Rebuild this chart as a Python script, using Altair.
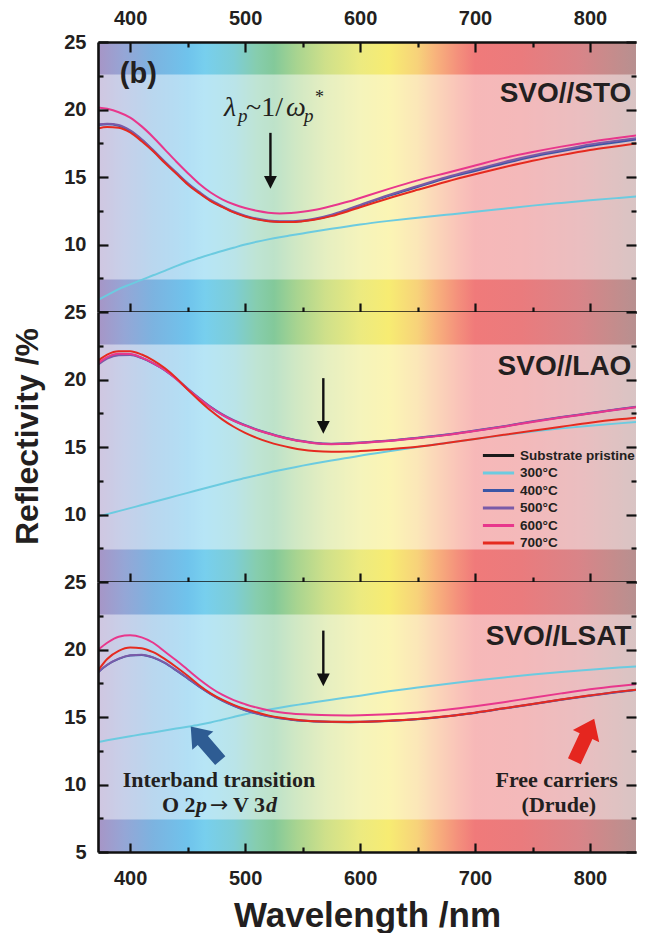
import altair as alt
import pandas as pd

# ---------------- data ----------------
X0, X1 = 372, 840
Y0, Y1 = 5, 25
W, H = 538, 270

SERIES = ["Substrate pristine", "300°C", "400°C", "500°C", "600°C", "700°C"]
COLORS = ["#1a1a1a", "#6ccbe0", "#3b56a6", "#7a5ba8", "#e8378c", "#e52a1f"]

WL = [372, 380, 390, 400, 410, 420, 430, 440, 450, 460, 470, 480, 490, 500, 510, 520, 530,
      540, 550, 560, 575, 590, 600, 625, 650, 675, 700, 725, 750, 775, 800, 825, 846]

STO_300 = [5.9, 6.25, 6.7, 7.05, 7.38, 7.72, 8.05, 8.4, 8.72, 9.0, 9.27, 9.52, 9.76, 10.0, 10.2, 10.38, 10.54,
           10.68, 10.82, 10.96, 11.16, 11.35, 11.48, 11.75, 11.98, 12.2, 12.42, 12.65, 12.88, 13.08, 13.27, 13.45, 13.6]
STO_400 = [18.85, 18.9, 18.8, 18.4, 17.75, 16.95, 16.1, 15.3, 14.5, 13.85, 13.25, 12.8, 12.4, 12.1, 11.88, 11.74, 11.68,
           11.68, 11.74, 11.86, 12.15, 12.58, 12.88, 13.6, 14.25, 14.9, 15.45, 16.0, 16.5, 16.9, 17.3, 17.6, 17.85]
STO_500 = [18.9, 18.95, 18.85, 18.45, 17.8, 17.0, 16.15, 15.35, 14.55, 13.9, 13.3, 12.85, 12.45, 12.14, 11.92, 11.78, 11.72,
           11.72, 11.78, 11.9, 12.2, 12.63, 12.93, 13.67, 14.33, 14.98, 15.55, 16.1, 16.6, 17.0, 17.4, 17.7, 17.95]
STO_600 = [20.15, 20.05, 19.8, 19.4, 18.75, 17.95, 17.05, 16.15, 15.3, 14.5, 13.85, 13.35, 12.98, 12.7, 12.5, 12.36, 12.3,
           12.33, 12.42, 12.56, 12.85, 13.18, 13.45, 14.12, 14.75, 15.3, 15.85, 16.4, 16.85, 17.25, 17.6, 17.9, 18.15]
STO_700 = [18.6, 18.7, 18.65, 18.3, 17.65, 16.9, 16.05, 15.25, 14.45, 13.8, 13.22, 12.78, 12.38, 12.08, 11.86, 11.72, 11.66,
           11.66, 11.72, 11.83, 12.1, 12.48, 12.76, 13.43, 14.05, 14.65, 15.2, 15.72, 16.2, 16.62, 17.0, 17.3, 17.55]

LAO_300 = [9.85, 10.03, 10.25, 10.47, 10.7, 10.92, 11.15, 11.38, 11.6, 11.83, 12.05, 12.28, 12.5, 12.7, 12.9, 13.1, 13.28,
           13.45, 13.62, 13.78, 14.0, 14.2, 14.35, 14.68, 15.0, 15.3, 15.6, 15.88, 16.14, 16.38, 16.58, 16.75, 16.88]
LAO_400 = [21.15, 21.6, 21.85, 21.85, 21.6, 21.2, 20.7, 20.05, 19.3, 18.6, 17.95, 17.4, 16.95, 16.6, 16.28, 16.02, 15.78,
           15.58, 15.42, 15.3, 15.23, 15.26, 15.32, 15.46, 15.66, 15.9, 16.2, 16.52, 16.88, 17.2, 17.5, 17.8, 18.03]
LAO_500 = [21.1, 21.55, 21.8, 21.82, 21.58, 21.2, 20.72, 20.08, 19.33, 18.63, 17.98, 17.43, 16.98, 16.63, 16.3, 16.04, 15.8,
           15.6, 15.44, 15.32, 15.25, 15.28, 15.34, 15.48, 15.68, 15.92, 16.22, 16.54, 16.9, 17.22, 17.52, 17.82, 18.05]
LAO_600 = [21.2, 21.65, 21.9, 21.88, 21.62, 21.22, 20.7, 20.04, 19.28, 18.58, 17.93, 17.38, 16.93, 16.58, 16.26, 16.0, 15.76,
           15.56, 15.4, 15.28, 15.21, 15.24, 15.3, 15.44, 15.64, 15.88, 16.18, 16.5, 16.86, 17.18, 17.48, 17.78, 18.0]
LAO_700 = [21.4, 21.85, 22.1, 22.1, 21.85, 21.42, 20.85, 20.12, 19.25, 18.45, 17.7, 17.05, 16.5, 16.05, 15.68, 15.38, 15.14,
           14.95, 14.8, 14.7, 14.64, 14.66, 14.7, 14.84, 15.02, 15.3, 15.6, 15.9, 16.2, 16.5, 16.8, 17.05, 17.22]

LSAT_300 = [13.15, 13.27, 13.42, 13.57, 13.72, 13.86, 14.0, 14.14, 14.28, 14.43, 14.6, 14.8, 15.0, 15.2, 15.38, 15.54, 15.69,
            15.83, 15.96, 16.09, 16.28, 16.46, 16.58, 16.9, 17.18, 17.45, 17.7, 17.93, 18.14, 18.33, 18.5, 18.66, 18.78]
LSAT_400 = [18.3, 18.85, 19.3, 19.55, 19.6, 19.4, 19.0, 18.45, 17.85, 17.25, 16.7, 16.22, 15.83, 15.5, 15.25, 15.05, 14.9,
            14.8, 14.72, 14.67, 14.63, 14.62, 14.63, 14.7, 14.84, 15.04, 15.3, 15.62, 15.94, 16.27, 16.58, 16.85, 17.06]
LSAT_500 = [18.32, 18.87, 19.32, 19.57, 19.62, 19.42, 19.02, 18.47, 17.87, 17.27, 16.72, 16.24, 15.85, 15.52, 15.27, 15.07, 14.92,
            14.82, 14.74, 14.69, 14.65, 14.64, 14.65, 14.72, 14.86, 15.06, 15.32, 15.64, 15.96, 16.29, 16.6, 16.87, 17.08]
LSAT_600 = [19.97, 20.5, 20.95, 21.05, 20.9, 20.5, 19.85, 19.2, 18.5, 17.8, 17.17, 16.65, 16.25, 15.95, 15.7, 15.5, 15.36,
            15.26, 15.2, 15.16, 15.13, 15.12, 15.13, 15.2, 15.34, 15.54, 15.8, 16.1, 16.43, 16.75, 17.05, 17.3, 17.48]
LSAT_700 = [18.44, 19.3, 19.9, 20.15, 20.1, 19.8, 19.3, 18.7, 18.05, 17.35, 16.75, 16.28, 15.9, 15.6, 15.35, 15.12, 14.96,
            14.83, 14.74, 14.68, 14.64, 14.63, 14.64, 14.72, 14.85, 15.05, 15.32, 15.64, 15.96, 16.3, 16.6, 16.88, 17.08]

PANEL_NAMES = ["SVO//STO", "SVO//LAO", "SVO//LSAT"]
PANEL_DATA = [
    {"300°C": STO_300, "400°C": STO_400, "500°C": STO_500, "600°C": STO_600, "700°C": STO_700},
    {"300°C": LAO_300, "400°C": LAO_400, "500°C": LAO_500, "600°C": LAO_600, "700°C": LAO_700},
    {"300°C": LSAT_300, "400°C": LSAT_400, "500°C": LSAT_500, "600°C": LSAT_600, "700°C": LSAT_700},
]

# label positions (wavelength, reflectivity)
PANEL_LABEL_X = 836
PANEL_LABEL_Y = [21.15, 20.93, 20.93]
# thin arrows: x, top, head centre
ARROW_X = [522, 568, 568]
ARROW_TOP = [18.27, 20.1, 21.4]
ARROW_HEAD = [14.6, 16.45, 17.75]

# spectrum background
SPEC_WL = [372, 395, 420, 450, 465, 490, 510, 525, 545, 570, 600, 625, 650, 665, 685, 700, 740, 790, 820, 840]
SPEC_COL = ["#a795c6", "#95a6d6", "#7cb3e0", "#6fc3ec", "#77cfee", "#7dcdd6", "#86cdae", "#83c99a", "#a8d490",
            "#cfe08a", "#ecea80", "#f7ec72", "#f7d27a", "#f8b47c", "#f4907c", "#f07a7a", "#ea7b7d", "#d98488",
            "#c58c8c", "#b79090"]
BAND_LO, BAND_HI = 7.4, 22.6

X_MAJOR = [400, 500, 600, 700, 800]
X_MINOR = [450, 550, 650, 750]
Y_MAJOR = [5, 10, 15, 20, 25]
Y_MINOR = [7.5, 12.5, 17.5, 22.5]

FONT = "Liberation Sans"
SERIF = "Liberation Serif"
INK = "#231f20"

xs = alt.Scale(domain=[X0, X1], nice=False, zero=False)
ys = alt.Scale(domain=[Y0, Y1], nice=False, zero=False)


def X(field="x"):
    return alt.X(f"{field}:Q", scale=xs, axis=None)


def Y(field="y"):
    return alt.Y(f"{field}:Q", scale=ys, axis=None)


def tick_axis(orient, values, size):
    return alt.Axis(orient=orient, values=values, domain=False, labels=False, ticks=True,
                    tickSize=size, tickWidth=2.2, tickColor="#111111", offset=-size,
                    grid=False, title=None, zindex=2)


def main_axis(orient, values, labels, pad, **kw):
    return alt.Axis(orient=orient, values=values, domain=True, domainColor="#111111",
                    domainWidth=2.6, ticks=False, labels=labels, labelPadding=pad, grid=False,
                    labelFont=FONT, labelFontSize=20, labelFontWeight="bold", labelColor=INK,
                    zindex=3, **kw)


anchor = pd.DataFrame({"x": [600], "y": [15]})


def carrier(xaxis, yaxis):
    return alt.Chart(anchor).mark_point(opacity=0, size=1).encode(
        x=alt.X("x:Q", scale=xs, axis=xaxis),
        y=alt.Y("y:Q", scale=ys, axis=yaxis),
    )


gradient = alt.Gradient(
    gradient="linear",
    stops=[alt.GradientStop(color=c, offset=(w - X0) / (X1 - X0)) for w, c in zip(SPEC_WL, SPEC_COL)],
    x1=0, x2=1, y1=0, y2=0,
)


def text_layer(x, y, t, **kw):
    return alt.Chart(pd.DataFrame({"x": [x], "y": [y], "t": [t]})).mark_text(**kw).encode(
        x=X(), y=Y(), text="t:N")


def panel(i):
    bg = alt.Chart(pd.DataFrame({"x": [X0], "x2": [X1], "y": [Y0], "y2": [Y1]})).mark_rect(
        color=gradient).encode(x=X(), x2="x2", y=Y(), y2="y2")
    wash = alt.Chart(pd.DataFrame({"x": [X0], "x2": [X1], "y": [BAND_LO], "y2": [BAND_HI]})).mark_rect(
        color="white", opacity=0.47).encode(x=X(), x2="x2", y=Y(), y2="y2")

    rows = []
    for name in SERIES:
        if name in PANEL_DATA[i]:
            for w, v in zip(WL, PANEL_DATA[i][name]):
                rows.append({"wl": w, "R": v, "series": name})
    df = pd.DataFrame(rows)
    if i == 1:
        legend = alt.Legend(orient="none", legendX=393, legendY=136, title=None,
                            symbolType="M-2.6,0H2.6", symbolSize=144, symbolStrokeWidth=3,
                            labelFont=FONT, labelFontSize=13.5, labelFontWeight="bold", labelColor=INK,
                            padding=0, rowPadding=3.5, labelOffset=14)
    else:
        legend = None
    lines = alt.Chart(df).mark_line(strokeWidth=2, interpolate="monotone", clip=True).encode(
        x=alt.X("wl:Q", scale=xs, axis=None),
        y=alt.Y("R:Q", scale=ys, axis=None),
        color=alt.Color("series:N", scale=alt.Scale(domain=SERIES, range=COLORS), legend=legend),
    )

    adf = pd.DataFrame({"x": [ARROW_X[i]], "y": [ARROW_TOP[i]], "y2": [ARROW_HEAD[i]]})
    shaft = alt.Chart(adf).mark_rule(strokeWidth=2.4, color="#111111").encode(x=X(), y=Y(), y2="y2")
    head = alt.Chart(adf).mark_point(shape="M-1,-1L1,-1L0,1Z", filled=True, size=165, opacity=1,
                                     color="#111111").encode(x=X(), y=Y("y2"))
    lab = text_layer(PANEL_LABEL_X, PANEL_LABEL_Y[i], PANEL_NAMES[i], align="right", baseline="middle",
                     font=FONT, fontSize=28, fontWeight="bold", color=INK)

    layers = [bg, wash, lines, shaft, head, lab]

    if i == 0:
        layers.append(text_layer(391, 22.63, "(b)", align="left", baseline="middle", font=FONT,
                                 fontSize=29, fontWeight="bold", color=INK))
        pieces = [("λ", 0, 0, 28, "italic"), ("p", 14, 6, 19, "italic"), ("~1/", 22, 0, 28, "normal"),
                  ("ω", 62, 0, 28, "italic"), ("p", 80, 6, 19, "italic"), ("*", 91, -13, 18, "normal")]
        for t, dx, dy, fs, st in pieces:
            layers.append(text_layer(481.6, 19.52, t, align="left", baseline="alphabetic", font=SERIF,
                                     fontSize=fs, fontStyle=st, dx=dx, dy=dy, color=INK))

    if i == 2:
        notes = pd.DataFrame({
            "x": [477.2, 771.0, 772.9],
            "y": [9.81, 9.81, 7.96],
            "t": ["Interband transition", "Free carriers", "(Drude)"],
        })
        layers.append(alt.Chart(notes).mark_text(
            align="center", baseline="alphabetic", font=SERIF, fontSize=22, fontWeight="bold", color=INK
        ).encode(x=X(), y=Y(), text="t:N"))
        # second line "O 2p → V 3d" with italic p and d
        parts = [("O 2", -57, "normal", SERIF, 22, "bold"), ("p", -23, "italic", SERIF, 22, "bold"),
                 ("→", -9, "normal", "DejaVu Sans", 22, "normal"), ("V 3", 14, "normal", SERIF, 22, "bold"),
                 ("d", 47, "italic", SERIF, 22, "bold")]
        for t, dx, st, fnt, fs, fw in parts:
            layers.append(text_layer(477.2, 7.96, t, align="left", baseline="alphabetic", font=fnt,
                                     fontSize=fs, fontWeight=fw, fontStyle=st, dx=dx, color=INK))
        big = pd.DataFrame({"x": [465.5], "y": [13.03]})
        arrow_path = "M0,-1L0.62,-0.18L0.3,-0.18L0.3,1L-0.3,1L-0.3,-0.18L-0.62,-0.18Z"
        layers.append(alt.Chart(big).mark_point(shape=arrow_path, filled=True, size=2025, angle=319,
                                                opacity=1, color="#2e5c93").encode(x=X(), y=Y()))
        red = pd.DataFrame({"x": [795.0], "y": [13.3]})
        layers.append(alt.Chart(red).mark_point(shape=arrow_path, filled=True, size=2200, angle=25,
                                                opacity=1, color="#e5261f").encode(x=X(), y=Y()))

    # axes
    yl_vals = [10, 15, 20, 25] if i < 2 else [5, 10, 15, 20, 25]
    if i == 1:
        ykw = dict(title="Reflectivity /%", titleFont=FONT, titleFontSize=32, titleFontWeight="bold",
                   titleColor=INK, titleAngle=270, titleX=-61, titleY=124, titleAlign="center",
                   titleBaseline="alphabetic")
    else:
        ykw = dict(title=None)
    if i == 2:
        xkw = dict(title="Wavelength /nm", titleFont=FONT, titleFontSize=35, titleFontWeight="bold",
                   titleColor=INK, titleY=74, titleBaseline="alphabetic")
    else:
        xkw = dict(title=None)
    layers.append(carrier(main_axis("bottom", X_MAJOR, i == 2, 16, **xkw),
                          main_axis("left", yl_vals, True, 12, **ykw)))
    layers.append(carrier(tick_axis("bottom", X_MAJOR, 9), tick_axis("left", Y_MAJOR, 10)))
    layers.append(carrier(tick_axis("bottom", X_MINOR, 5), tick_axis("left", Y_MINOR, 5)))
    if i == 0:
        layers.append(carrier(main_axis("top", X_MAJOR, True, 14, title=None), tick_axis("right", Y_MAJOR, 10)))
        layers.append(carrier(tick_axis("top", X_MAJOR, 10), tick_axis("right", Y_MINOR, 5)))
        layers.append(carrier(tick_axis("top", X_MINOR, 5), None))
    else:
        layers.append(carrier(None, tick_axis("right", Y_MAJOR, 10)))
        layers.append(carrier(None, tick_axis("right", Y_MINOR, 5)))

    return alt.layer(*layers).resolve_axis(x="independent", y="independent").properties(width=W, height=H)


chart = alt.vconcat(panel(0), panel(1), panel(2), spacing=0, bounds="flush").resolve_legend(
    color="independent"
).configure_view(stroke=None).properties(
    padding={"left": 2, "top": 0, "right": 0, "bottom": 0}, background="white"
)

chart.save("out.html", embed_options={"renderer": "svg", "actions": False})
